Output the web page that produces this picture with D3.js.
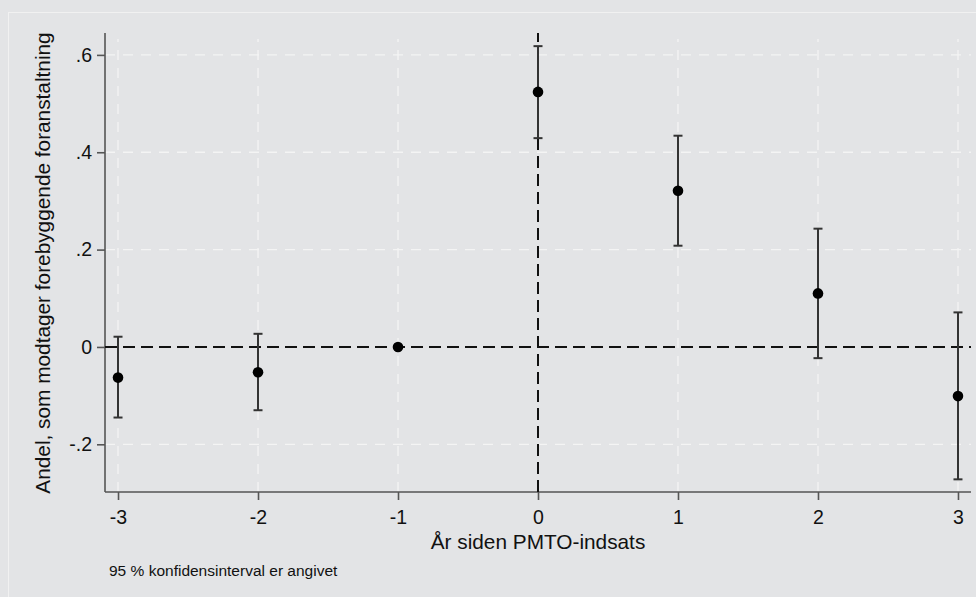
<!DOCTYPE html>
<html><head><meta charset="utf-8">
<script src="https://cdn.jsdelivr.net/npm/d3@7"></script>
<style>body{margin:0;background:#e3e4e6;} svg{display:block;font-family:"Liberation Sans",Arial,sans-serif;}</style>
</head><body>
<svg id="c" width="976" height="597"></svg>
<script>
const years = [-3, -2, -1, 0, 1, 2, 3];
const estimates = [-0.063, -0.052, 0, 0.524, 0.321, 0.110, -0.101];
const ciLow = [-0.145, -0.130, null, 0.429, 0.208, -0.023, -0.272];
const ciHigh = [0.021, 0.027, null, 0.618, 0.434, 0.243, 0.071];
const yTicks = [-0.2, 0, 0.2, 0.4, 0.6];
const yTickLabels = ["-.2", "0", ".2", ".4", ".6"];
const xTicks = [-3, -2, -1, 0, 1, 2, 3];
const xTickLabels = ["-3", "-2", "-1", "0", "1", "2", "3"];
const yTitle = "Andel, som modtager forebyggende foranstaltning";
const xTitle = "År siden PMTO-indsats";
const note = "95 % konfidensinterval er angivet";

const svg = d3.select("#c");
const L = 105, R = 971, T = 33, B = 492;
const x = d3.scaleLinear().domain([-3.093, 3.093]).range([L, R]);
const y = d3.scaleLinear().domain([-0.298, 0.645]).range([B, T]);

// outer frame line
svg.append("rect").attr("x", 8.5).attr("y", 12.5).attr("width", 1000).attr("height", 700)
  .attr("fill", "none").attr("stroke", "#f1f1f1").attr("stroke-width", 1);

// gridlines
const g = svg.append("g");
g.selectAll("line.hg").data(yTicks).join("line")
  .attr("x1", L).attr("x2", R).attr("y1", d => y(d)).attr("y2", d => y(d))
  .attr("stroke", "#f4f4f4").attr("stroke-width", 1.3).attr("stroke-dasharray", "10,8");
g.selectAll("line.vg").data(xTicks).join("line")
  .attr("y1", B).attr("y2", T + 6).attr("x1", d => x(d)).attr("x2", d => x(d))
  .attr("stroke", "#f4f4f4").attr("stroke-width", 1.3).attr("stroke-dasharray", "10,8");

// axes
const yAxis = d3.axisLeft(y).tickValues(yTicks).tickFormat((d, i) => yTickLabels[i]).tickSize(8).tickPadding(5);
const ya = svg.append("g").attr("transform", `translate(${L},0)`).call(yAxis);
ya.select(".domain").attr("d", `M0,${T}V${B}`);
const xAxis = d3.axisBottom(x).tickValues(xTicks).tickFormat((d, i) => xTickLabels[i]).tickSize(8).tickPadding(10);
const xa = svg.append("g").attr("transform", `translate(0,${B})`).call(xAxis);
xa.select(".domain").attr("d", `M${L},0H${R}`);
[ya, xa].forEach(a => {
  a.select(".domain").attr("stroke", "#555").attr("stroke-width", 1.6);
  a.selectAll(".tick line").attr("stroke", "#555").attr("stroke-width", 1.6);
  a.selectAll(".tick text").attr("fill", "#111").attr("font-size", 19.5).attr("font-family", "Liberation Sans, Arial, sans-serif");
});

// reference lines
svg.append("line").attr("x1", L).attr("x2", R).attr("y1", y(0)).attr("y2", y(0))
  .attr("stroke", "#111").attr("stroke-width", 2).attr("stroke-dasharray", "12,6");
svg.append("line").attr("x1", x(0)).attr("x2", x(0)).attr("y1", B).attr("y2", T)
  .attr("stroke", "#111").attr("stroke-width", 2).attr("stroke-dasharray", "12,6");

// error bars
const idx = years.map((d, i) => i).filter(i => ciLow[i] !== null);
const eb = svg.append("g").attr("stroke", "#333").attr("stroke-width", 2);
eb.selectAll("line.v").data(idx).join("line")
  .attr("x1", i => x(years[i])).attr("x2", i => x(years[i]))
  .attr("y1", i => y(ciLow[i])).attr("y2", i => y(ciHigh[i]));
eb.selectAll("line.lo").data(idx).join("line")
  .attr("x1", i => x(years[i]) - 4.5).attr("x2", i => x(years[i]) + 4.5)
  .attr("y1", i => y(ciLow[i])).attr("y2", i => y(ciLow[i]));
eb.selectAll("line.hi").data(idx).join("line")
  .attr("x1", i => x(years[i]) - 4.5).attr("x2", i => x(years[i]) + 4.5)
  .attr("y1", i => y(ciHigh[i])).attr("y2", i => y(ciHigh[i]));

// points
svg.append("g").selectAll("circle").data(years).join("circle")
  .attr("cx", d => x(d)).attr("cy", (d, i) => y(estimates[i])).attr("r", 5.3).attr("fill", "#000");

// titles
svg.append("text").attr("transform", `translate(50,263) rotate(-90)`)
  .attr("text-anchor", "middle").attr("font-size", 20.8).attr("fill", "#111").text(yTitle);
svg.append("text").attr("x", (L + R) / 2).attr("y", 549).attr("text-anchor", "middle")
  .attr("font-size", 20.8).attr("fill", "#111").text(xTitle);
svg.append("text").attr("x", 109).attr("y", 576).attr("font-size", 15.5).attr("fill", "#111").text(note);
</script>
</body></html>
